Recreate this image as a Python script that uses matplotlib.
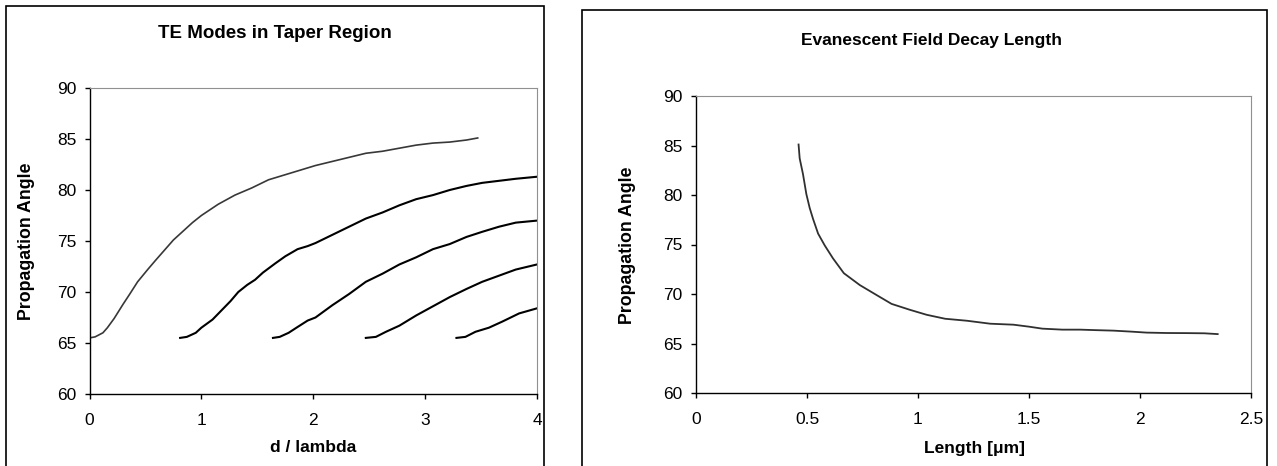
import matplotlib
matplotlib.use("Agg")
import matplotlib.pyplot as plt
from matplotlib.patches import Rectangle

plt.rcParams["font.family"] = ["Liberation Sans", "DejaVu Sans"]

# TE modes in taper region (d/lambda vs propagation angle)
te0_x = [0, 0.05, 0.12, 0.16, 0.22, 0.30, 0.36, 0.43, 0.52, 0.59, 0.67, 0.75, 0.83, 0.92, 1.0,
         1.15, 1.30, 1.45, 1.60, 1.75, 1.90, 2.02, 2.17, 2.32, 2.47, 2.62, 2.77, 2.92, 3.07, 3.22, 3.37, 3.47]
te0_y = [65.5, 65.6, 66.0, 66.5, 67.4, 68.8, 69.8, 71.0, 72.2, 73.1, 74.1, 75.1, 75.9, 76.8, 77.5,
         78.6, 79.5, 80.2, 81.0, 81.5, 82.0, 82.4, 82.8, 83.2, 83.6, 83.8, 84.1, 84.4, 84.6, 84.7, 84.9, 85.1]

te1_x = [0.81, 0.87, 0.95, 1.0, 1.1, 1.18, 1.26, 1.33, 1.41, 1.48, 1.55, 1.66, 1.75, 1.86, 1.95,
         2.02, 2.17, 2.32, 2.47, 2.62, 2.77, 2.92, 3.07, 3.22, 3.37, 3.51, 3.66, 3.81, 4.0]
te1_y = [65.5, 65.6, 66.0, 66.5, 67.3, 68.2, 69.1, 70.0, 70.7, 71.2, 71.9, 72.8, 73.5, 74.2, 74.5,
         74.8, 75.6, 76.4, 77.2, 77.8, 78.5, 79.1, 79.5, 80.0, 80.4, 80.7, 80.9, 81.1, 81.3]

te2_x = [1.64, 1.70, 1.78, 1.85, 1.95, 2.02, 2.17, 2.32, 2.47, 2.62, 2.77, 2.92, 3.07, 3.22, 3.37,
         3.51, 3.66, 3.81, 4.0]
te2_y = [65.5, 65.6, 66.0, 66.5, 67.2, 67.5, 68.7, 69.8, 71.0, 71.8, 72.7, 73.4, 74.2, 74.7, 75.4,
         75.9, 76.4, 76.8, 77.0]

te3_x = [2.47, 2.56, 2.65, 2.77, 2.92, 3.07, 3.22, 3.37, 3.51, 3.66, 3.81, 4.0]
te3_y = [65.5, 65.6, 66.1, 66.7, 67.7, 68.6, 69.5, 70.3, 71.0, 71.6, 72.2, 72.7]

te4_x = [3.28, 3.36, 3.45, 3.57, 3.69, 3.84, 4.0]
te4_y = [65.5, 65.6, 66.1, 66.5, 67.1, 67.9, 68.4]

# evanescent field decay length
decay_x = [0.462, 0.467, 0.482, 0.497, 0.512, 0.527, 0.550, 0.580, 0.617, 0.666, 0.738, 0.813,
           0.881, 0.964, 1.039, 1.122, 1.22, 1.325, 1.43, 1.50, 1.56, 1.65, 1.73, 1.80, 1.88,
           1.96, 2.03, 2.12, 2.21, 2.29, 2.35]
decay_y = [85.1, 83.7, 82.1, 80.1, 78.7, 77.6, 76.1, 74.9, 73.6, 72.1, 70.9, 69.9,
           69.0, 68.4, 67.9, 67.5, 67.3, 67.0, 66.9, 66.7, 66.5, 66.4, 66.4, 66.35, 66.3,
           66.2, 66.1, 66.06, 66.05, 66.03, 65.95]

left_xticks = [0, 1, 2, 3, 4]
right_xticks = [0, 0.5, 1, 1.5, 2, 2.5]
right_xlabels = ["0", "0.5", "1", "1.5", "2", "2.5"]
yticks = [60, 65, 70, 75, 80, 85, 90]

W, H = 1277, 466
fig = plt.figure(figsize=(W / 100, H / 100), dpi=100)


def px(x0, y0, x1, y1):
    # pixel box (top-left origin) -> figure fraction rect
    return [x0 / W, 1 - y1 / H, (x1 - x0) / W, (y1 - y0) / H]


# chart area borders
fig.patches.append(Rectangle((6 / W, -0.1), (544 - 6) / W, 1.1 - 6 / H, transform=fig.transFigure,
                             fill=False, edgecolor="black", linewidth=1.2))
fig.patches.append(Rectangle((582 / W, -0.1), (1267 - 582) / W, 1.1 - 10 / H, transform=fig.transFigure,
                             fill=False, edgecolor="black", linewidth=1.2))


def style_axes(ax):
    for side in ["top", "right"]:
        ax.spines[side].set_color("#909090")
        ax.spines[side].set_linewidth(0.8)
    for side in ["left", "bottom"]:
        ax.spines[side].set_color("black")
        ax.spines[side].set_linewidth(1.0)
    ax.set_ylim(60, 90)
    ax.set_yticks(yticks)
    ax.tick_params(axis="y", direction="out", length=3.5, width=1, pad=6, labelsize=12.5)
    ax.tick_params(axis="x", direction="out", length=3.5, width=1, pad=10, labelsize=12.5)


ax1 = fig.add_axes(px(89.5, 88, 537, 394))
ax1.plot(te0_x, te0_y, color="#383838", linewidth=1.2)
for xs, ys in [(te1_x, te1_y), (te2_x, te2_y), (te3_x, te3_y), (te4_x, te4_y)]:
    ax1.plot(xs, ys, color="black", linewidth=1.5)
ax1.set_xlim(0, 4)
ax1.set_xticks(left_xticks)
style_axes(ax1)

ax2 = fig.add_axes(px(696, 96, 1251, 393))
ax2.plot(decay_x, decay_y, color="#303030", linewidth=1.3)
ax2.set_xlim(0, 2.5)
ax2.set_xticks(right_xticks)
ax2.set_xticklabels(right_xlabels)
style_axes(ax2)

fig.text(275 / W, 1 - 34 / H, "TE Modes in Taper Region", ha="center", va="center",
         fontsize=13.5, fontweight="bold")
fig.text(932 / W, 1 - 41 / H, "Evanescent Field Decay Length", ha="center", va="center",
         fontsize=12.5, fontweight="bold")
fig.text(313 / W, 1 - 448 / H, "d / lambda", ha="center", va="center", fontsize=12.5, fontweight="bold")
fig.text(974 / W, 1 - 449 / H, "Length [\u03bcm]", ha="center", va="center", fontsize=12.5,
         fontweight="bold")
fig.text(27 / W, 1 - 241 / H, "Propagation Angle", ha="center", va="center", rotation=90,
         fontsize=12.8, fontweight="bold")
fig.text(628 / W, 1 - 245 / H, "Propagation Angle", ha="center", va="center", rotation=90,
         fontsize=12.8, fontweight="bold")

fig.savefig("out.png", dpi=100)
